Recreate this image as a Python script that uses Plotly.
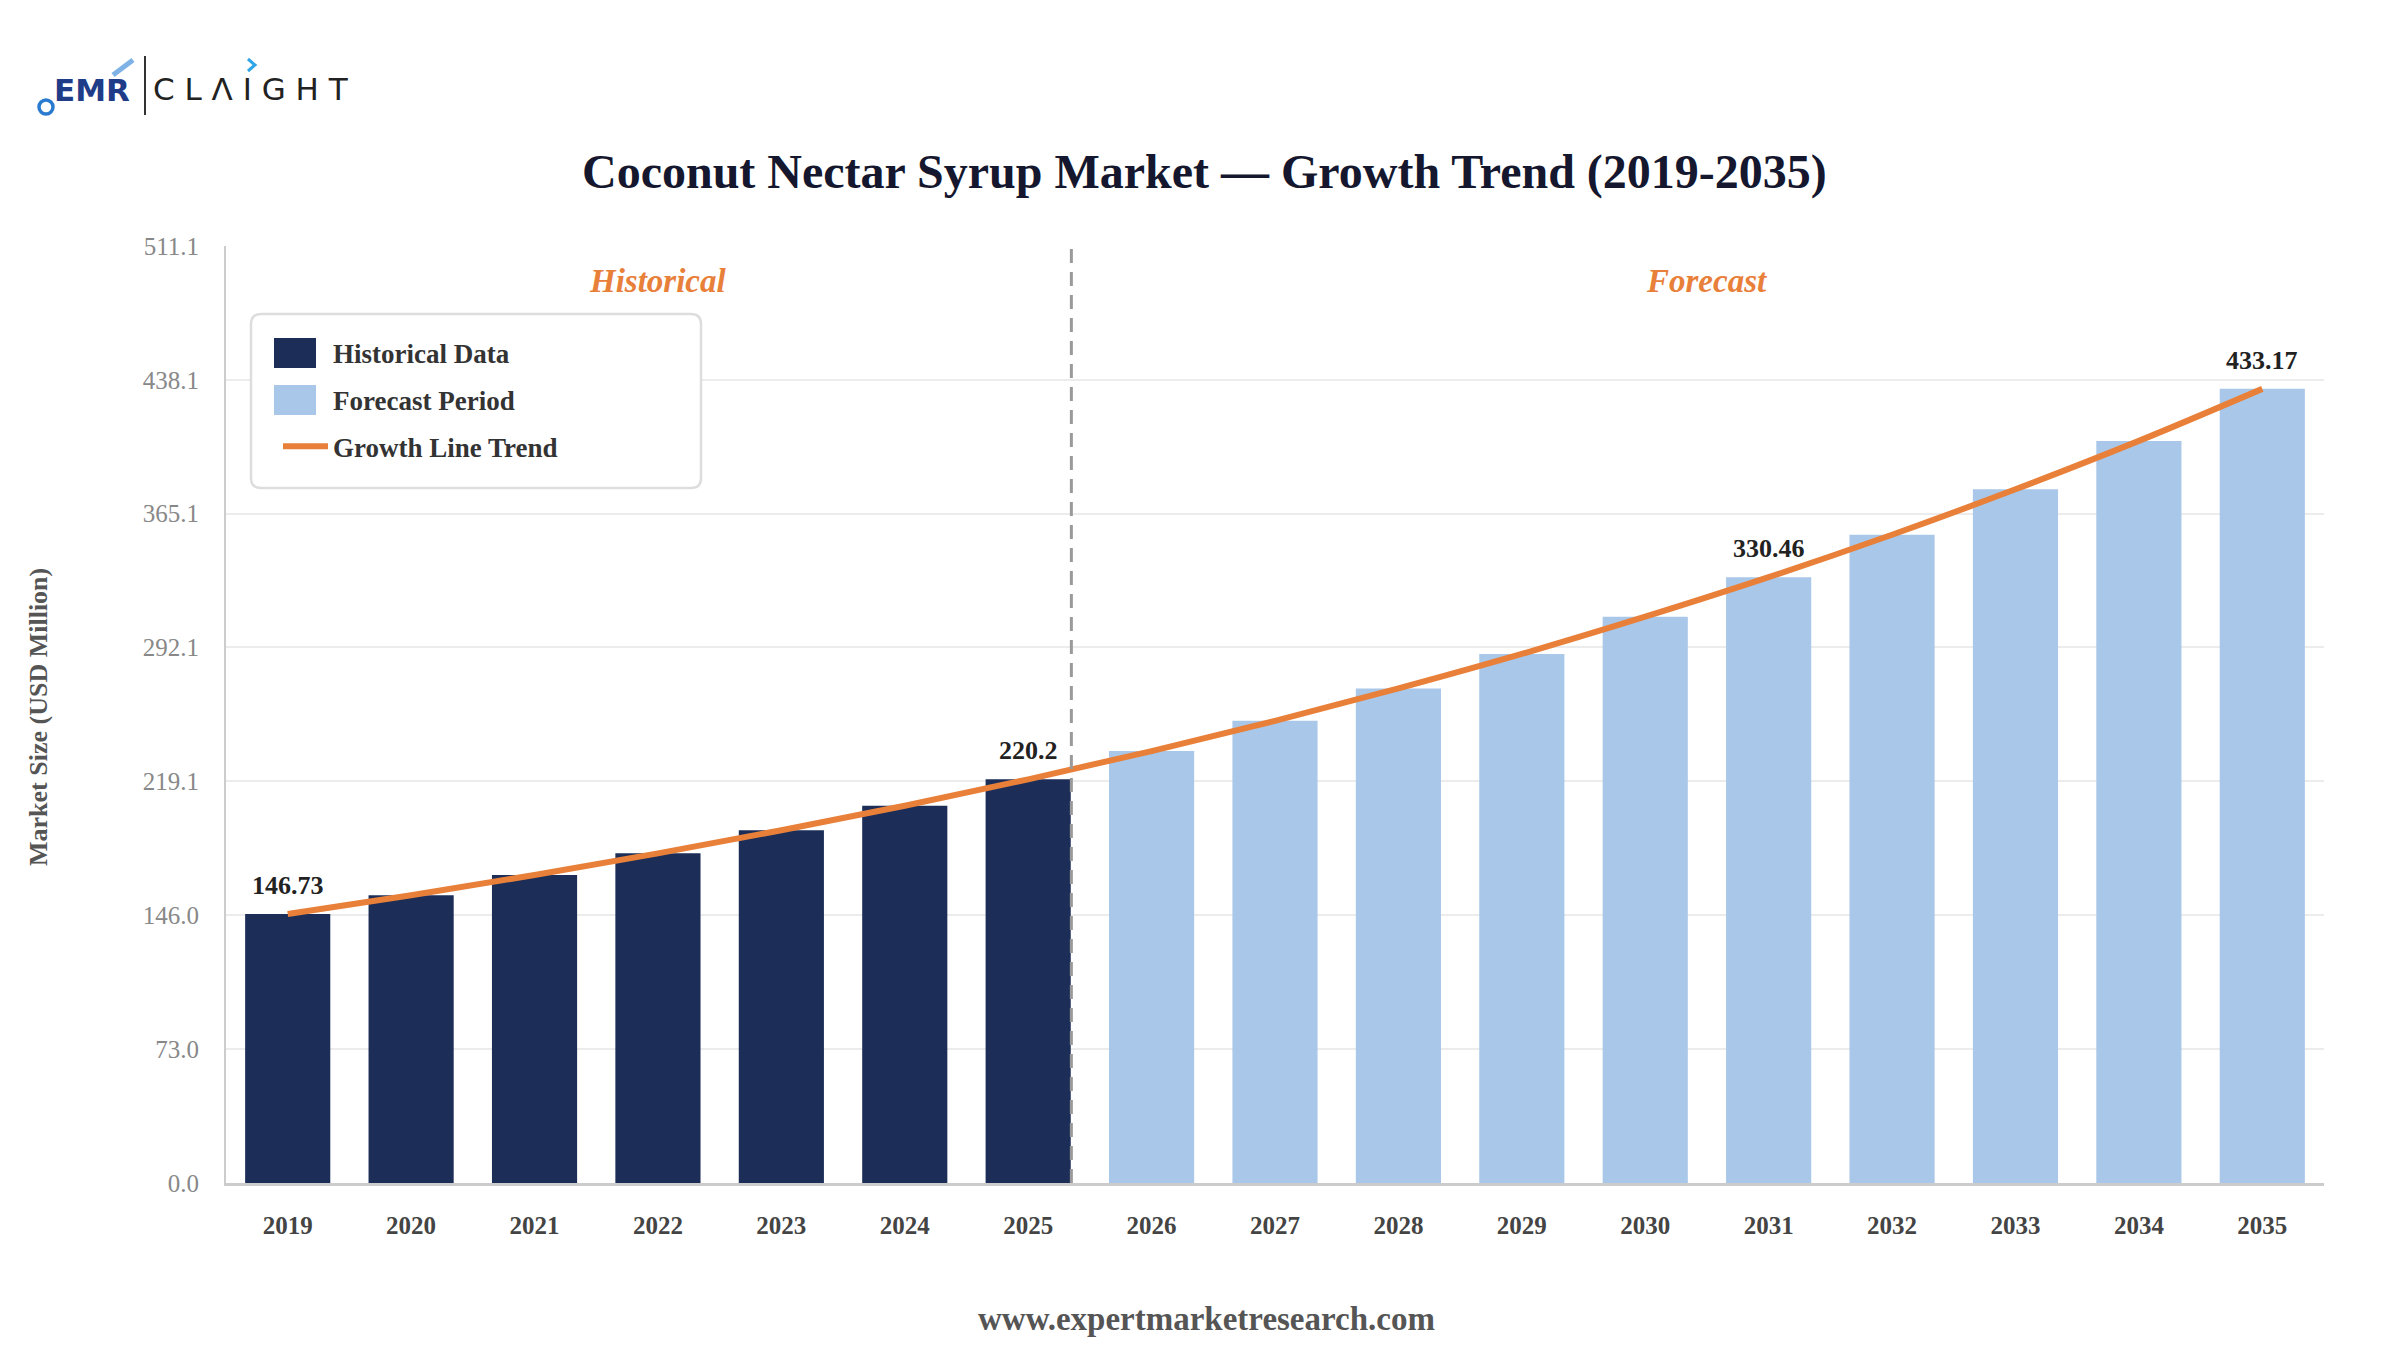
import plotly.graph_objects as go

# ---------------- data ----------------
years = [str(y) for y in range(2019, 2036)]
hist_years = years[:7]
fore_years = years[7:]
hist_values = [146.73, 157.0, 168.0, 179.8, 192.4, 205.8, 220.2]
fore_values = [235.6, 252.1, 269.8, 288.6, 308.9, 330.46, 353.6, 378.4, 404.8, 433.17]
all_values = hist_values + fore_values
y_ticks = [0.0, 73.0, 146.0, 219.1, 292.1, 365.1, 438.1, 511.1]
y_tick_labels = ["0.0", "73.0", "146.0", "219.1", "292.1", "365.1", "438.1", "511.1"]
labelled_years = ["2019", "2025", "2031", "2035"]
labelled_text = ["146.73", "220.2", "330.46", "433.17"]

# ---------------- style ----------------
NAVY = "#1C2E58"
LIGHT = "#A9C7E8"
ORANGE = "#E8803A"
SERIF = "Liberation Serif, Times New Roman, serif"
SANS = "DejaVu Sans, Arial, sans-serif"
PAD = "\u00a0" * 22

W, H = 2400, 1350
OFF = 8  # page body margin
ml, mr, mt, mb = 226 - OFF, 84, 246 - OFF, 175
pw, ph = W - ml - mr, H - mt - mb


def px_x(p):
    return (p - OFF - ml) / pw


def px_y(p):
    return (H - mb - (p - OFF)) / ph


fig = go.Figure()
fig.add_trace(go.Bar(
    x=hist_years, y=hist_values, name="Historical Data",
    marker=dict(color=NAVY, line=dict(width=0)), showlegend=False, hoverinfo="x+y",
))
fig.add_trace(go.Bar(
    x=fore_years, y=fore_values, name="Forecast Period",
    marker=dict(color=LIGHT, line=dict(width=0)), showlegend=False, hoverinfo="x+y",
))
fig.add_trace(go.Scatter(
    x=years, y=all_values, mode="lines", name="Growth Line Trend" + PAD,
    line=dict(color=ORANGE, width=6, shape="spline"), legendgroup="c", legendrank=3,
    hoverinfo="skip",
))
# legend entries for the two bar series
fig.add_trace(go.Bar(
    x=[None], y=[None], name="Historical Data" + PAD, legendgroup="a", legendrank=1,
    marker=dict(color=NAVY, line=dict(color=NAVY, width=16)), showlegend=True,
))
fig.add_trace(go.Bar(
    x=[None], y=[None], name="Forecast Period" + PAD, legendgroup="b", legendrank=2,
    marker=dict(color=LIGHT, line=dict(color=LIGHT, width=16)), showlegend=True,
))

# value labels
for yr, txt in zip(labelled_years, labelled_text):
    i = years.index(yr)
    fig.add_annotation(
        x=i, y=all_values[i], xref="x", yref="y", text=f"<b>{txt}</b>", showarrow=False,
        yanchor="bottom", xanchor="center", yshift=12,
        font=dict(family=SERIF, size=26, color="#222222"),
    )

# period labels
fig.add_annotation(x=3, y=px_y(281), xref="x", yref="paper", text="<b><i>Historical</i></b>",
                   showarrow=False, yanchor="middle", font=dict(family=SERIF, size=33, color=ORANGE))
fig.add_annotation(x=11.5, y=px_y(281), xref="x", yref="paper", text="<b><i>Forecast</i></b>",
                   showarrow=False, yanchor="middle", font=dict(family=SERIF, size=33, color=ORANGE))

# divider between historical and forecast
fig.add_shape(type="line", xref="x", yref="paper", x0=6.35, x1=6.35, y0=0, y1=1,
              line=dict(color="#9A9A9A", width=3, dash="14px,9px"), layer="above")

# legend frame (rounded)
bx0, by0, bx1, by1, rad = 251, 314, 701, 488, 10
frame = (
    f"M {px_x(bx0 + rad)},{px_y(by0)} L {px_x(bx1 - rad)},{px_y(by0)} "
    f"Q {px_x(bx1)},{px_y(by0)} {px_x(bx1)},{px_y(by0 + rad)} "
    f"L {px_x(bx1)},{px_y(by1 - rad)} Q {px_x(bx1)},{px_y(by1)} {px_x(bx1 - rad)},{px_y(by1)} "
    f"L {px_x(bx0 + rad)},{px_y(by1)} Q {px_x(bx0)},{px_y(by1)} {px_x(bx0)},{px_y(by1 - rad)} "
    f"L {px_x(bx0)},{px_y(by0 + rad)} Q {px_x(bx0)},{px_y(by0)} {px_x(bx0 + rad)},{px_y(by0)} Z"
)
fig.add_shape(type="path", xref="paper", yref="paper", path=frame,
              fillcolor="white", line=dict(color="#DDDDDD", width=2.5), layer="above")
# larger legend swatches behind the legend's own bar symbols
for (cy, col) in [(353, NAVY), (400, LIGHT)]:
    fig.add_shape(type="rect", xref="paper", yref="paper",
                  x0=px_x(274), x1=px_x(316), y0=px_y(cy + 15), y1=px_y(cy - 15),
                  fillcolor=col, line=dict(width=0), layer="above")

# y axis title
fig.add_annotation(xref="paper", yref="paper", x=px_x(38), y=px_y(717), textangle=-90,
                   xanchor="center", yanchor="middle", showarrow=False,
                   text="<b>Market Size (USD Million)</b>",
                   font=dict(family=SERIF, size=26, color="#555555"))

# footer
fig.add_annotation(x=px_x(1206), y=px_y(1319), xref="paper", yref="paper",
                   xanchor="center", yanchor="middle",
                   text="<b>www.expertmarketresearch.com</b>",
                   showarrow=False, font=dict(family=SERIF, size=33, color="#555555"))

# ---------------- logo ----------------
fig.add_annotation(xref="paper", yref="paper", x=px_x(52), y=px_y(90), xanchor="left", yanchor="middle",
                   text="<b>EMR</b>", showarrow=False,
                   font=dict(family=SANS, size=31, color="#1F3C88"))
fig.add_shape(type="circle", xref="paper", yref="paper",
              x0=px_x(39), x1=px_x(53), y0=px_y(114), y1=px_y(100),
              line=dict(color="#2A7BD0", width=3.5))
fig.add_shape(type="line", xref="paper", yref="paper",
              x0=px_x(113), x1=px_x(133), y0=px_y(75), y1=px_y(60),
              line=dict(color="#7FB2E5", width=5))
fig.add_shape(type="line", xref="paper", yref="paper",
              x0=px_x(145), x1=px_x(145), y0=px_y(56), y1=px_y(115),
              line=dict(color="#333333", width=2))
fig.add_annotation(xref="paper", yref="paper", x=px_x(151), y=px_y(89), xanchor="left", yanchor="middle",
                   text="C L \u039B I G H T", showarrow=False,
                   font=dict(family=SANS, size=31, color="#222222"))
fig.add_shape(type="path", xref="paper", yref="paper",
              path=f"M {px_x(248)},{px_y(59)} L {px_x(255)},{px_y(65)} L {px_x(248)},{px_y(71)}",
              line=dict(color="#2FA4E7", width=3))

fig.update_layout(
    width=W, height=H,
    margin=dict(l=ml, r=mr, t=mt, b=mb, autoexpand=False),
    paper_bgcolor="white", plot_bgcolor="white",
    barmode="overlay", bargap=0.31,
    title=dict(text="<b>Coconut Nectar Syrup Market \u2014 Growth Trend (2019-2035)</b>",
               x=0.4985, xref="container", xanchor="center", y=1 - (171 - OFF) / H, yref="container",
               yanchor="middle",
               font=dict(family=SERIF, size=48, color="#15172E")),
    showlegend=True,
    legend=dict(
        x=px_x(278), y=px_y(328), xref="paper", yref="paper", xanchor="left", yanchor="top",
        bgcolor="rgba(0,0,0,0)", borderwidth=0,
        font=dict(family=SERIF, size=27, color="#333333", weight="bold"),
        tracegroupgap=9, itemwidth=45, traceorder="grouped",
    ),
    xaxis=dict(
        type="category", categoryorder="array", categoryarray=years,
        range=[-0.5, 16.5], showgrid=False, showline=True, linecolor="#CCCCCC", linewidth=3,
        ticks="", tickfont=dict(family=SERIF, size=25, color="#444444", weight="bold"),
        ticklabelstandoff=18, zeroline=False, fixedrange=True,
    ),
    yaxis=dict(
        range=[0, 511.1], tickmode="array", tickvals=y_ticks, ticktext=y_tick_labels,
        showgrid=True, gridcolor="#ECECEC", gridwidth=2, showline=True, linecolor="#CCCCCC", linewidth=2,
        zeroline=False, ticks="", tickfont=dict(family=SERIF, size=25, color="#888888"),
        ticklabelstandoff=20,
    ),
)

fig.write_html("out.html")
